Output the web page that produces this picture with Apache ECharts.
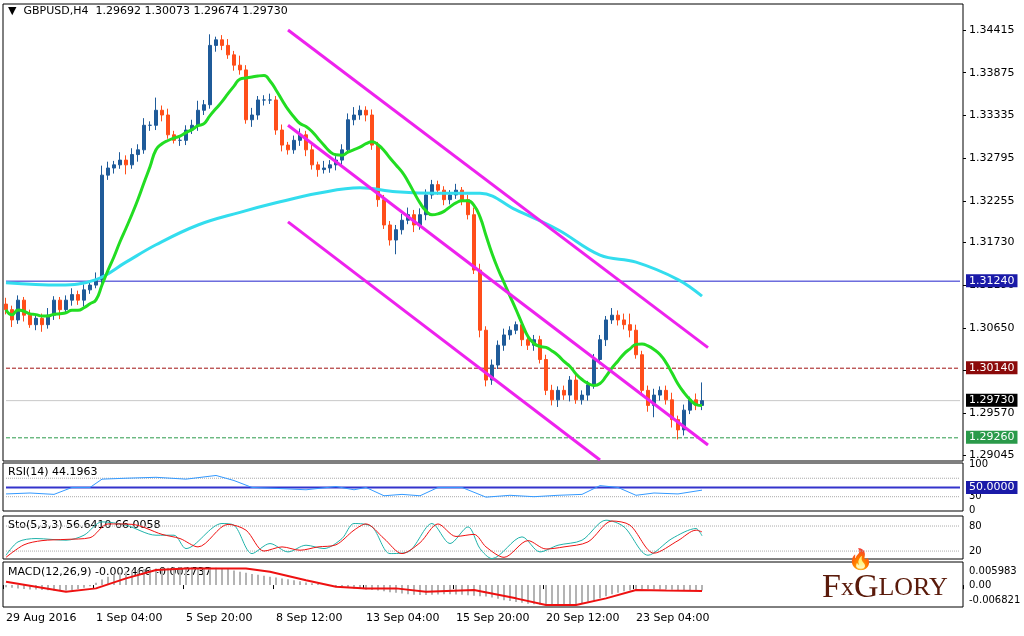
<!DOCTYPE html>
<html><head><meta charset="utf-8">
<script src="https://cdn.jsdelivr.net/npm/echarts@6/dist/echarts.min.js"></script>
<style>html,body{margin:0;padding:0;background:#fff}#c{width:1024px;height:636px}</style>
</head><body><div id="c"></div>
<script>
const closes=[1.3088,1.3075,1.3100,1.3081,1.3069,1.3077,1.3069,1.3081,1.3100,1.3088,1.3100,1.3107,1.3100,1.3113,1.3119,1.3126,1.3258,1.3267,1.3271,1.3277,1.3271,1.3284,1.3290,1.3321,1.3321,1.3340,1.3334,1.3309,1.3302,1.3302,1.3315,1.3321,1.3340,1.3347,1.3422,1.3429,1.3422,1.3410,1.3397,1.3391,1.3328,1.3334,1.3353,1.3353,1.3353,1.3315,1.3296,1.3290,1.3302,1.3309,1.3290,1.3271,1.3265,1.3267,1.3271,1.3277,1.3290,1.3328,1.3334,1.3340,1.3334,1.3296,1.3227,1.3195,1.3176,1.3189,1.3201,1.3208,1.3195,1.3208,1.3233,1.3246,1.3239,1.3227,1.3233,1.3239,1.3227,1.3208,1.3138,1.3062,1.2999,1.3018,1.3043,1.3056,1.3062,1.3069,1.3050,1.3043,1.3050,1.3025,1.2986,1.2974,1.2986,1.2980,1.2999,1.2974,1.2980,1.2993,1.3025,1.3050,1.3075,1.3081,1.3075,1.3069,1.3062,1.3031,1.2986,1.2967,1.2980,1.2986,1.2974,1.2949,1.2936,1.2961,1.2974,1.2967,1.29730];
const firstOpen=1.3095;
const upWick=[8,5,6,4,7,5,6,9,5,4,6,8,5,7,5,9,12,8,5,10,6,8,7,9,5,16,6,8,5,4,6,7,12,6,14,4,6,8,5,12,6,9,5,6,8,5,7,4,6,8,5,6,4,9,6,5,7,8,10,6,5,7,4,6,5,6,8,9,6,8,7,6,5,5,6,8,4,6,9,8,5,7,6,8,5,4,6,5,6,5,6,7,5,6,5,8,6,5,7,6,5,9,6,8,14,7,5,6,8,5,6,9,5,7,4,8,23];
const downWick=[6,9,5,8,4,7,9,5,6,12,5,7,6,8,5,4,9,6,7,5,12,5,9,5,7,6,8,5,4,7,6,5,7,6,5,8,6,5,7,6,5,9,6,7,5,6,8,6,5,7,8,6,9,5,6,7,6,5,7,6,8,6,9,5,7,18,6,5,9,6,7,5,6,7,6,5,7,6,5,9,8,6,5,7,6,5,8,6,7,5,6,7,9,6,8,5,6,7,5,6,8,5,7,6,9,5,6,8,15,7,6,10,12,7,5,6,6];
const maSlowPts=[[0,1.3122],[9,1.3119],[15,1.3126],[20,1.3148],[25,1.3170],[32,1.3195],[39,1.3211],[45,1.3223],[52,1.3235],[59,1.3242],[65,1.3237],[72,1.3235],[79,1.3235],[85,1.3214],[92,1.3189],[99,1.3157],[105,1.3148],[112,1.3126],[116,1.3105]];
const rsiPts=[[0,36],[4,38],[8,35],[11,50],[14,50],[16,68],[20,70],[25,72],[30,68],[35,76],[38,65],[41,50],[45,48],[50,45],[55,52],[58,45],[60,50],[63,32],[66,35],[69,32],[72,50],[76,50],[80,29],[84,33],[88,30],[92,33],[96,35],[99,54],[102,50],[105,33],[108,38],[112,36],[116,44.2]];
const stoK=[[0,10],[2,42],[5,50],[10,46],[13,58],[16,90],[20,82],[25,58],[28,58],[30,26],[36,86],[38,82],[41,14],[44,38],[47,18],[50,34],[53,26],[56,50],[58,86],[61,78],[64,14],[67,18],[71,86],[74,38],[77,78],[79,26],[81,2],[86,54],[89,18],[92,34],[96,46],[100,94],[103,78],[107,10],[111,50],[115,74],[116,56.6]];
const stoD=[[0,5],[3,35],[6,45],[10,48],[14,52],[17,85],[21,84],[26,60],[29,50],[32,30],[37,84],[40,70],[43,20],[46,30],[49,22],[52,30],[55,35],[58,70],[60,85],[63,50],[66,14],[69,40],[72,85],[75,55],[78,60],[80,30],[83,5],[87,45],[90,25],[93,30],[97,42],[101,92],[104,82],[108,15],[112,45],[115,70],[116,66]];
const macdHistE4=[-10,-12,-15,-18,-20,-20,-22,-24,-25,-25,-25,-22,-18,-12,-5,10,25,38,48,55,60,65,68,72,74,75,77,78,79,80,80,80,80,79,79,78,76,72,66,60,55,50,46,42,38,34,30,26,22,17,12,8,5,2,0,-5,-8,-12,-15,-18,-20,-22,-25,-28,-32,-35,-38,-42,-44,-45,-45,-44,-43,-42,-42,-43,-44,-46,-48,-50,-52,-56,-62,-68,-72,-76,-80,-84,-87,-89,-90,-90,-90,-89,-88,-86,-82,-75,-68,-60,-50,-42,-35,-28,-24,-20,-18,-18,-19,-20,-20,-21,-22,-23,-24,-25,-25];
const macdSignalE4=[[0,15],[5,-8],[10,-30],[15,-15],[20,30],[25,68],[30,75],[40,75],[44,60],[50,22],[55,-8],[60,-15],[65,-15],[70,-30],[78,-22],[85,-60],[90,-90],[95,-90],[100,-60],[105,-22],[110,-25],[116,-27]];
const channelUpper=[[47,1.34415],[117,1.3040]];
const channelMid=[[47,1.3321],[117,1.2917]];
const channelLow=[[47,1.3199],[99,1.2898]];
const priceTicks=[1.34415,1.33875,1.33335,1.32795,1.32255,1.3173,1.3119,1.3065,1.3011,1.2957,1.29045];
const timeLabels={0:'29 Aug 2016',15:'1 Sep 04:00',30:'5 Sep 20:00',45:'8 Sep 12:00',60:'13 Sep 04:00',75:'15 Sep 20:00',90:'20 Sep 12:00',105:'23 Sep 04:00'};
const levels={blue:1.3124,red:1.3014,cur:1.2973,green:1.2926};
const N=160;

const cats=[];for(let i=0;i<N;i++)cats.push(i);
const ohlc=closes.map((c,i)=>{const o=i?closes[i-1]:firstOpen;return [o,c,Math.min(o,c)-downWick[i]*1e-4,Math.max(o,c)+upWick[i]*1e-4];});
const maFast=closes.map((c,i)=>{let s=0,n=0;for(let k=Math.max(0,i-9);k<=i;k++){s+=closes[k];n++;}return +(s/n).toFixed(5);});
const hist=macdHistE4.map(v=>v*1e-4);
const sig=macdSignalE4.map(p=>[p[0],p[1]*1e-4]);
const F='Tahoma, "DejaVu Sans", sans-serif';
const YMIN=1.28967,YMAX=1.34743;
const grids=[{left:3,right:61,top:4,height:457},{left:3,right:61,top:463,height:48},{left:3,right:61,top:516,height:43},{left:3,right:61,top:562,height:45}];
const xAxes=grids.map((g,i)=>({type:'category',gridIndex:i,data:cats,boundaryGap:true,axisLine:{show:false},axisTick:{show:i==3,interval:(k)=>timeLabels[k]!==undefined,length:4,lineStyle:{color:'#000'}},
 axisLabel:{show:i==3,interval:(k)=>timeLabels[k]!==undefined,formatter:(v)=>timeLabels[v]||'',align:'left',margin:6,fontSize:11,fontFamily:F,color:'#000'},splitLine:{show:false}}));
const hline=(xa,ya,v,c,t,w)=>({type:'line',xAxisIndex:xa,yAxisIndex:ya,data:[[0,v],[N-1,v]],showSymbol:false,silent:true,z:1,lineStyle:{color:c,type:t,width:w||1}});
const opt={animation:false,backgroundColor:'#fff',grid:grids.map(g=>Object.assign({show:true,borderColor:'#000',borderWidth:1},g)),
xAxis:xAxes,
yAxis:[
{gridIndex:0,position:'right',min:YMIN,max:YMAX,splitLine:{show:false},axisLine:{show:false},axisTick:{customValues:priceTicks,show:true,length:3,lineStyle:{color:'#000'}},axisLabel:{customValues:priceTicks,formatter:v=>v.toFixed(5),fontSize:11,fontFamily:F,color:'#000',margin:6}},
{gridIndex:1,position:'right',min:-1,max:103,splitLine:{show:false},axisLine:{show:false},axisTick:{show:false},axisLabel:{customValues:[0,30,100],fontSize:10,fontFamily:F,color:'#000',margin:6}},
{gridIndex:2,position:'right',min:1,max:104,splitLine:{show:false},axisLine:{show:false},axisTick:{show:false},axisLabel:{customValues:[20,80,100],fontSize:10,fontFamily:F,color:'#000',margin:6}},
{gridIndex:3,position:'right',min:-0.0099,max:0.0104,splitLine:{show:false},axisLine:{show:false},axisTick:{show:false},axisLabel:{customValues:[0.005983,0,-0.006821],formatter:v=>v==0?'0.00':v.toFixed(6),fontSize:10,fontFamily:F,color:'#000',margin:6}}],
series:[
hline(0,0,levels.blue,'#2222cc','solid'),hline(0,0,levels.red,'#a01010','dashed'),hline(0,0,levels.cur,'#c8c8c8','solid'),hline(0,0,levels.green,'#2a9a4a','dashed'),
{type:'candlestick',xAxisIndex:0,yAxisIndex:0,data:ohlc,barWidth:4,itemStyle:{color:'#1f5b99',color0:'#ff4e1a',borderColor:'#1f5b99',borderColor0:'#ff4e1a',borderWidth:1}},
{type:'line',xAxisIndex:0,yAxisIndex:0,data:maSlowPts,smooth:0.4,showSymbol:false,lineStyle:{color:'#33ddee',width:3}},
{type:'line',xAxisIndex:0,yAxisIndex:0,data:maFast,smooth:true,showSymbol:false,lineStyle:{color:'#22dd22',width:3}},
...[channelUpper,channelMid,channelLow].map(d=>({type:'line',xAxisIndex:0,yAxisIndex:0,data:d,showSymbol:false,lineStyle:{color:'#ee22ee',width:3}})),
hline(1,1,70,'#aaa','dotted'),hline(1,1,30,'#aaa','dotted'),hline(1,1,50,'#3333cc','solid',2),
{type:'line',xAxisIndex:1,yAxisIndex:1,data:rsiPts,showSymbol:false,lineStyle:{color:'#3399ff',width:1}},
hline(2,2,80,'#aaa','dotted'),hline(2,2,20,'#aaa','dotted'),
{type:'line',xAxisIndex:2,yAxisIndex:2,data:stoK,smooth:0.3,showSymbol:false,lineStyle:{color:'#20b2aa',width:1}},
{type:'line',xAxisIndex:2,yAxisIndex:2,data:stoD,smooth:0.3,showSymbol:false,lineStyle:{color:'#ee1111',width:1}},
{type:'bar',xAxisIndex:3,yAxisIndex:3,data:hist,barWidth:2,itemStyle:{color:'#b4b4b4'}},
{type:'line',xAxisIndex:3,yAxisIndex:3,data:sig,showSymbol:false,lineStyle:{color:'#ee1111',width:2}}
],
graphic:[
{type:'text',left:8,top:6,style:{text:'▼  GBPUSD,H4  1.29692 1.30073 1.29674 1.29730',font:'11px '+F,fill:'#000'}},
{type:'text',left:8,top:467,style:{text:'RSI(14) 44.1963',font:'11px '+F,fill:'#000'}},
{type:'text',left:8,top:520,style:{text:'Sto(5,3,3) 56.6410 66.0058',font:'11px '+F,fill:'#000'}},
{type:'text',left:8,top:567,style:{text:'MACD(12,26,9) -0.002466 -0.002737',font:'11px '+F,fill:'#000'}},
...[[levels.blue,'#1a1aa8'],[levels.red,'#8b0a0a'],[levels.cur,'#000'],[levels.green,'#2a9a4a']].map(([v,c])=>({type:'text',left:966,top:4+(YMAX-v)/(YMAX-YMIN)*457-7,z:10,style:{text:v.toFixed(5),font:'11px '+F,fill:'#fff',backgroundColor:c,padding:[1,3]}})),
{type:'text',left:966,top:481,z:10,style:{text:'50.0000',font:'11px '+F,fill:'#fff',backgroundColor:'#1a1aa8',padding:[1,3]}},
{type:'text',left:822,top:571,style:{rich:{a:{font:'34px "Liberation Serif", serif',fill:'#5a1a0a'},b:{font:'26px "Liberation Serif", serif',fill:'#5a1a0a'}},text:'{a|F}{b|x}{a|G}{b|LORY}'}},
{type:'text',left:848,top:550,style:{text:'🔥',font:'20px sans-serif',fill:'#f5a623'}}
]};
echarts.init(document.getElementById('c')).setOption(opt);
</script></body></html>
